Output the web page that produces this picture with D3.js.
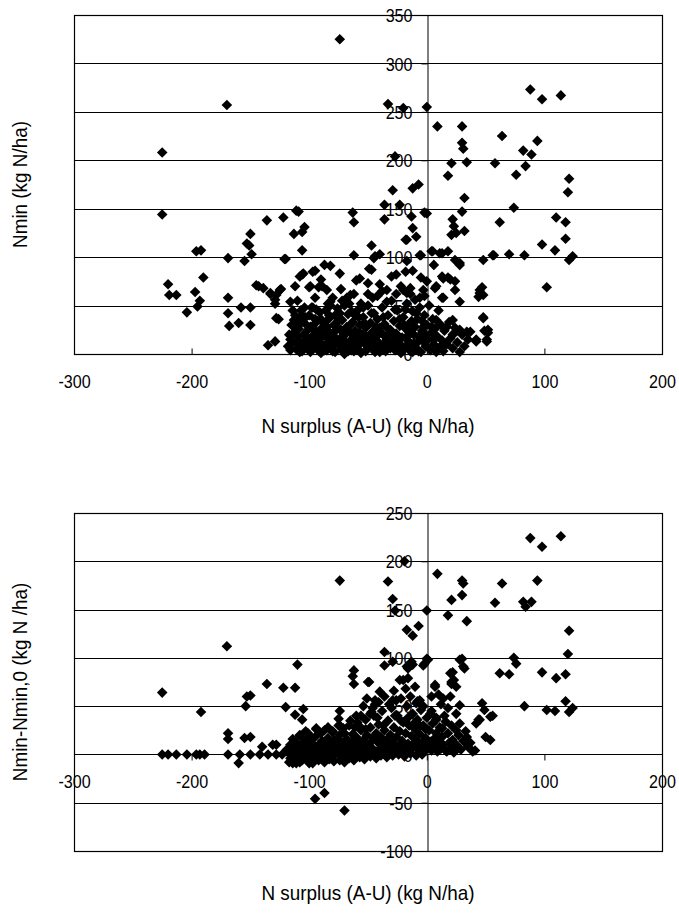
<!DOCTYPE html>
<html>
<head>
<meta charset="utf-8">
<script src="https://cdn.jsdelivr.net/npm/d3@7/dist/d3.min.js"></script>
<style>
  html, body { margin: 0; padding: 0; background: #fff; }
  svg { display: block; }
  text { font-family: "Liberation Sans", Arial, sans-serif; fill: #000; }
</style>
</head>
<body>
<svg id="chart" width="679" height="914"></svg>
<script>
// Axis ticks
const surplusTicks = [-300, -200, -100, 0, 100, 200];
const nminTicks = [0, 50, 100, 150, 200, 250, 300, 350];
const deltaTicks = [-100, -50, 0, 50, 100, 150, 200, 250];

// Axis titles
const xTitle = "N surplus (A-U) (kg N/ha)";
const nminTitle = "Nmin (kg N/ha)";
const deltaTitle = "Nmin-Nmin,0 (kg N /ha)";

// Nmin against N surplus: [surplus, Nmin]
const nminPoints = [
  [-74,325],[-170,257],[-225,208],[-33,258],[-20,254],[0,255],[9,235],[30,235],[30,218],[31,212],
  [21,197],[18,184],[34,198],[58,197],[64,225],[76,185],[84,194],[82,210],[89,206],[94,220],
  [88,273],[98,263],[114,267],[121,181],[120,167],[-27,204],[-29,169],[-12,171],[-7,175],[32,161],
  [-225,144],[-111,148],[-109,147],[-63,146],[-62,136],[-136,138],[-122,141],[-104,131],[-106,126],[-113,124],
  [-150,124],[-153,114],[-151,112],[-149,103],[-155,96],[-169,99],[-196,106],[-192,107],[-190,79],[-220,72],
  [-219,61],[-213,61],[-197,64],[-193,55],[-195,49],[-204,43],[-169,58],[-169,42],[-168,29],[-160,32],
  [-158,48],[-150,48],[-150,30],[-143,70],[-139,68],[-133,62],[-128,61],[-129,52],[-124,67],[-120,98],
  [-112,70],[-126,36],[-135,9],[-129,13],[-116,54],[-108,80],[-105,83],[-95,86],[-87,92],[-82,91],
  [-74,83],[-100,69],[-92,69],[-90,77],[-85,66],[-73,67],[-68,58],[-60,76],[-57,78],[-62,102],
  [-47,112],[-45,99],[-49,88],[-50,73],[-97,48],[-80,58],
  [-106,107],[-121,98],[-18,118],[-5,102],[5,106],[13,104],[18,106],[24,97],[28,92],[6,92],
  [48,97],[57,102],[-106,82],[-97,85],[-145,71],[-125,66],[-99,70],[-89,70],[-34,66],[-20,66],
  [-17,63],[-3,66],[14,78],[20,77],[7,68],[24,66],[14,58],[28,54],[45,66],[48,61],
  [-129,56],[-133,63],[-82,54],[-65,61],[-128,37],
  [8,35],[22,35],[28,25],[37,23],[48,37],[52,25],[51,15],[42,15],[13,8],[22,20],[17,28],[6,15],[4,28],
  [30,147],[22,139],[23,132],[21,123],[25,125],[32,127],[74,151],[62,136],[110,141],[118,136],
  [118,119],[98,113],[109,107],[124,101],[121,97],[102,69],[83,102],[70,103],[56,102],[47,69],
  [45,63],[44,59],[48,38],[49,24],[52,22],[42,13],[51,13],[23,21],[13,9],[34,23],
  [13,58],[13,80],[18,79],[24,75],[8,70],[28,94],[11,104],[4,106],[-6,102],[0,145],
  [-2,146],[-36,139],[-36,154],[-23,154],[-13,142],[-12,130],[-17,118],[-9,121],[-44,101],[-40,103],
  [-17,96],[-18,85],[-47,87],[-5,79],[-14,68],
  // dense cluster below 60 kg N/ha
  [-115,30],[-114,12],[-113,22],[-112,40],[-111,5],[-110,18],[-110,35],[-109,26],[-108,10],[-107,45],
  [-106,3],[-105,20],[-104,32],[-103,14],[-102,8],[-101,25],[-100,40],[-99,2],[-98,17],[-97,29],
  [-96,11],[-95,36],[-94,6],[-93,22],[-92,15],[-91,43],[-90,1],[-89,27],[-88,9],[-87,19],
  [-86,33],[-85,4],[-84,24],[-83,13],[-82,38],[-81,7],[-80,21],[-79,30],[-78,2],[-77,16],
  [-76,47],[-75,10],[-74,26],[-73,5],[-72,35],[-71,18],[-70,0],[-69,12],[-68,28],[-67,41],
  [-66,6],[-65,22],[-64,15],[-63,33],[-62,3],[-61,24],[-60,9],[-59,45],[-58,17],[-57,30],
  [-56,1],[-55,20],[-54,38],[-53,11],[-52,27],[-51,5],[-50,50],[-49,14],[-48,32],[-47,8],
  [-46,23],[-45,42],[-44,2],[-43,18],[-42,36],[-41,12],[-40,27],[-39,6],[-38,48],[-37,20],
  [-36,31],[-35,3],[-34,15],[-33,40],[-32,9],[-31,25],[-30,55],[-29,13],[-28,34],[-27,4],
  [-26,21],[-25,45],[-24,10],[-23,29],[-22,1],[-21,17],[-20,38],[-19,7],[-18,26],[-17,52],
  [-16,14],[-15,31],[-14,3],[-13,22],[-12,44],[-11,11],[-10,28],[-9,6],[-8,36],[-7,18],
  [-6,58],[-5,2],[-4,24],[-3,13],[-2,40],[-1,8],[0,30],[1,15],[2,50],[3,4],
  [4,22],[5,36],[6,10],[7,26],[8,2],[9,18],[10,45],[11,7],[12,30],[13,14],
  [14,3],[15,24],[17,10],[19,33],[20,16],[22,6],[24,27],[26,12],[28,2],[30,20],[32,8],[35,15],
  [-118,8],[-117,20],[-116,15],[-112,28],[-108,2],[-104,6],[-100,12],[-96,20],[-92,4],[-88,32],
  [-84,16],[-80,3],[-76,12],[-72,23],[-68,8],[-64,4],[-60,19],[-56,12],[-52,3],[-48,20],
  [-44,10],[-40,2],[-36,11],[-32,21],[-28,6],[-24,18],[-20,4],[-16,24],[-12,2],[-8,12],
  [-4,34],[-106,40],[-98,48],[-90,36],[-82,50],[-74,42],[-66,52],[-58,38],[-46,58],[-42,60],
  [-34,54],[-26,62],[-18,46],[-10,56],[-2,60],[-110,55],[-95,58],[-86,45],[-62,62],[-54,48],
  [-38,65],[-22,70],[-14,62],[-6,48],[0,75],[-30,80],[-12,86],[-40,72],[-26,82],[-50,62],[-70,50],
  [-116,4],[-113,35],[-111,25],[-109,14],[-107,32],[-105,8],[-103,38],[-101,16],[-99,28],[-97,6],
  [-95,24],[-93,34],[-91,12],[-89,19],[-87,4],[-85,28],[-83,40],[-81,16],[-79,9],[-77,25],
  [-75,35],[-73,17],[-71,8],[-69,22],[-67,3],[-65,30],[-63,12],[-61,40],[-59,6],[-57,22],
  [-55,13],[-53,32],[-51,18],[-49,7],[-47,42],[-45,16],[-43,28],[-41,4],[-39,22],[-37,38],
  [-35,12],[-33,26],[-31,6],[-29,20],[-27,46],[-25,14],[-23,36],[-21,8],[-19,30],[-17,18],
  [-15,10],[-13,34],[-11,20],[-9,42],[-7,3],[-5,16],[-3,28],[-1,20],[-114,45],[-104,48],
  [-94,46],[-84,52],[-78,40],[-72,55],[-64,44],[-56,52]
];

// Nmin - Nmin,0 against N surplus: [surplus, difference]
const deltaPoints = [
  [-74,180],[-19,200],[-33,179],[-29,161],[-27,149],[0,149],[9,187],[30,180],[31,177],[21,160],
  [30,165],[18,144],[34,138],[58,157],[64,177],[82,158],[84,153],[89,158],[94,180],[88,224],
  [98,215],[114,226],[121,128],[-17,129],[-12,123],[-7,133],
  [-170,112],[-110,93],[-62,87],[-63,81],[-62,73],[-49,75],[-225,64],[-136,73],[-122,69],[-112,69],
  [-150,61],[-153,60],[-154,50],[-120,49],[-105,47],[-112,41],[-106,36],[-192,44],[-74,45],[-75,37],
  [-74,30],[-60,40],[-57,29],[-48,42],[-44,56],[-46,48],[-169,22],[-169,16],[-155,17],[-150,18],
  [-128,10],[-140,8],[-108,19],[-101,22],[-94,27],[-87,25],[-80,23],
  [-225,0],[-220,0],[-213,0],[-204,0],[-196,0],[-193,0],[-189,0],[-169,0],[-159,0],[-150,0],
  [-142,0],[-135,0],[-128,0],[-123,0],[-116,0],
  [-160,-9],[-114,-9],[-100,-9],[-95,-46],[-87,-40],[-70,-58],[-131,10],
  [120,104],[74,100],[76,94],[62,84],[70,83],[98,85],[110,79],[118,83],[118,55],[124,48],
  [121,44],[102,46],[109,45],[83,50],[56,40],[47,53],[49,46],[45,36],[42,32],[50,18],
  [54,15],[41,4],[30,99],[32,89],[22,85],[23,77],[25,70],[21,73],[7,72],[4,60],
  [1,98],[-2,94],[-13,96],[-16,89],[-29,96],[-36,106],[-36,92],[-50,75],[-23,77],[-16,79],
  [-40,65],[-51,58],[-29,56],[-6,56],[14,58],[20,60],[28,51],[25,42],[28,32],[34,18],
  [24,4],[13,27],[8,36],[3,42],
  [-17,91],[-12,93],[0,99],[-3,92],[-20,77],[-41,54],[-26,56],[-9,53],[7,70],[20,84],
  [21,75],[28,98],[31,91],[54,39],[44,36],[34,11],[25,25],[17,3],
  // dense band around zero
  [-118,2],[-116,-4],[-115,8],[-114,0],[-113,-6],[-112,4],[-111,12],[-110,-2],[-109,6],[-108,-8],
  [-107,1],[-106,10],[-105,-3],[-104,5],[-103,15],[-102,-1],[-101,8],[-100,2],[-99,-5],[-98,12],
  [-97,4],[-96,0],[-95,18],[-94,7],[-93,-3],[-92,10],[-91,2],[-90,22],[-89,5],[-88,-2],
  [-87,13],[-86,8],[-85,1],[-84,17],[-83,4],[-82,-4],[-81,11],[-80,24],[-79,6],[-78,0],
  [-77,15],[-76,9],[-75,3],[-74,20],[-73,-1],[-72,12],[-71,27],[-70,6],[-69,2],[-68,16],
  [-67,9],[-66,30],[-65,4],[-64,13],[-63,21],[-62,1],[-61,8],[-60,18],[-59,33],[-58,5],
  [-57,12],[-56,25],[-55,2],[-54,15],[-53,9],[-52,36],[-51,20],[-50,4],[-49,11],[-48,28],
  [-47,7],[-46,17],[-45,40],[-44,3],[-43,22],[-42,13],[-41,31],[-40,6],[-39,18],[-38,45],
  [-37,10],[-36,25],[-35,2],[-34,15],[-33,35],[-32,8],[-31,20],[-30,48],[-29,12],[-28,28],
  [-27,4],[-26,18],[-25,40],[-24,9],[-23,24],[-22,2],[-21,14],[-20,33],[-19,7],[-18,22],
  [-17,50],[-16,11],[-15,30],[-14,4],[-13,19],[-12,42],[-11,9],[-10,26],[-9,14],[-8,36],
  [-7,5],[-6,21],[-5,46],[-4,12],[-3,30],[-2,3],[-1,17],[0,38],[1,8],[2,25],
  [3,13],[4,4],[5,32],[6,16],[7,9],[8,22],[9,3],[10,14],[11,28],[12,6],
  [13,18],[14,10],[15,40],[16,4],[18,22],[19,12],[20,6],[21,30],[22,15],[23,2],
  [25,10],[27,20],[29,5],[31,14],[33,24],[35,8],[37,12],[39,3],
  [-117,-8],[-111,-9],[-106,-6],[-101,-7],[-97,-9],[-92,-6],[-87,-8],[-83,-5],[-79,-7],[-74,-6],
  [-70,-8],[-66,-4],[-62,-6],[-57,-3],[-53,-5],[-48,-2],[-43,-4],[-39,-1],[-34,-3],[-29,-1],
  [-24,0],[-19,-2],[-14,1],[-9,-1],[-4,0],
  [-114,16],[-108,20],[-103,24],[-99,18],[-94,26],[-89,14],[-84,28],[-79,15],[-75,30],[-70,22],
  [-65,35],[-61,28],[-56,40],[-52,26],[-47,44],[-42,38],[-37,30],[-32,52],[-27,40],[-22,35],
  [-16,38],[-11,32],[-6,30],[-1,26],[-3,50],[-8,55],[-22,58],[-14,60],[-44,52],[-36,60],
  [-28,66],[-54,50],[-18,68],[4,45],[8,38],[12,52],[16,34],[18,48],[10,62],[-10,70],
  [-119,5],[-116,10],[-113,3],[-109,-4],[-105,12],[-102,6],[-98,-2],[-94,2],[-90,8],[-86,-5],
  [-82,6],[-78,10],[-73,4],[-68,-3],[-64,6],[-59,-1],[-55,8],[-51,0],[-46,5],[-41,0],
  [-36,6],[-31,3],[-26,8],[-21,4],[-16,6],[-12,10],[-7,12],[-2,8]
];

const svg = d3.select("#chart");
const left = 74, right = 662;
const tickFont = 18.5, tickSqueeze = 0.87;
const titleFont = 21, titleSqueeze = 0.9;

function drawPanel(cfg) {
  const g = svg.append("g");
  const x = d3.scaleLinear().domain([-300, 200]).range([left, right]);
  const y = d3.scaleLinear().domain(cfg.domain).range([cfg.bottom, cfg.top]);

  // horizontal gridlines
  g.append("g").selectAll("line").data(cfg.ticks).join("line")
    .attr("x1", left).attr("x2", right)
    .attr("y1", d => Math.round(y(d)) + 0.5).attr("y2", d => Math.round(y(d)) + 0.5)
    .attr("stroke", "#000").attr("stroke-width", 1);

  // plot frame
  g.append("rect")
    .attr("x", left + 0.5).attr("y", Math.round(cfg.top) + 0.5)
    .attr("width", right - left).attr("height", Math.round(cfg.bottom) - Math.round(cfg.top))
    .attr("fill", "none").attr("stroke", "#000").attr("stroke-width", 1.2);

  // vertical axis crossing at zero surplus
  const yAxis = d3.axisLeft(y).tickValues(cfg.ticks).tickFormat(d => String(d))
    .tickSizeInner(6).tickSizeOuter(0).tickPadding(9);
  const ya = g.append("g").attr("transform", `translate(${Math.round(x(0)) + 0.5},0)`).call(yAxis);
  ya.attr("font-family", null).attr("font-size", null);
  ya.select(".domain").attr("stroke", "#000");
  ya.selectAll("line").attr("stroke", "#000");
  ya.selectAll("text")
    .attr("font-size", tickFont).attr("dy", "0.36em")
    .attr("x", -15 / tickSqueeze)
    .attr("transform", `scale(${tickSqueeze},1)`);

  // horizontal axis at zero
  const y0 = Math.round(y(0)) + 0.5;
  const xAxis = d3.axisBottom(x).tickValues(surplusTicks).tickFormat(d => String(d))
    .tickSizeInner(cfg.xTickDir * 6).tickSizeOuter(0).tickPadding(cfg.xTickDir > 0 ? 14 : 20);
  const xa = g.append("g").attr("transform", `translate(0,${y0})`).call(xAxis);
  xa.attr("font-family", null).attr("font-size", null);
  xa.select(".domain").remove();
  xa.selectAll("line").attr("stroke", "#000");
  xa.selectAll("text").attr("font-size", tickFont)
    .attr("transform", `scale(${tickSqueeze},1)`);

  // markers
  const diamond = d3.symbol(d3.symbolSquare, 56);
  g.append("g").selectAll("path").data(cfg.points).join("path")
    .attr("d", diamond)
    .attr("transform", d => `translate(${x(d[0])},${y(d[1])}) rotate(45)`)
    .attr("fill", "#000");

  // titles
  g.append("text")
    .attr("transform", `translate(${(left + right) / 2},${cfg.xTitleY}) scale(${titleSqueeze},1)`)
    .attr("text-anchor", "middle").attr("font-size", titleFont)
    .text(xTitle);
  g.append("text")
    .attr("transform", `translate(20,${(cfg.top + cfg.bottom) / 2}) rotate(-90) scale(${titleSqueeze},1)`)
    .attr("text-anchor", "middle").attr("dominant-baseline", "central")
    .attr("font-size", titleFont)
    .text(cfg.yTitle);
}

drawPanel({
  domain: [0, 350], ticks: nminTicks, top: 15, bottom: 354,
  points: nminPoints, yTitle: nminTitle, xTitleY: 433, xTickDir: -1
});
drawPanel({
  domain: [-100, 250], ticks: deltaTicks, top: 513, bottom: 851,
  points: deltaPoints, yTitle: deltaTitle, xTitleY: 900, xTickDir: 1
});
</script>
</body>
</html>
